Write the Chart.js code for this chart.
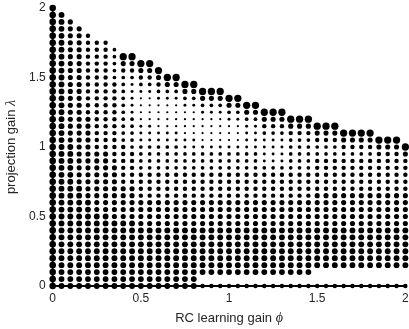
<!DOCTYPE html>
<html><head><meta charset="utf-8">
<script src="https://cdn.jsdelivr.net/npm/chart.js@4.4.1/dist/chart.umd.min.js"></script>
<style>html,body{margin:0;padding:0;background:#fff;overflow:hidden}</style>
</head><body>
<canvas id="c" width="409" height="329"></canvas>
<script>
// RC learning gain (x categories)
const phi = [0,0.05,0.1,0.15,0.2,0.25,0.3,0.35,0.4,0.45,0.5,0.55,0.6,0.65,0.7,0.75,0.8,0.85,0.9,0.95,1,1.05,1.1,1.15,1.2,1.25,1.3,1.35,1.4,1.45,1.5,1.55,1.6,1.65,1.7,1.75,1.8,1.85,1.9,1.95,2];
// projection gain (y categories)
const lambda = [0,0.05,0.1,0.15,0.2,0.25,0.3,0.35,0.4,0.45,0.5,0.55,0.6,0.65,0.7,0.75,0.8,0.85,0.9,0.95,1,1.05,1.1,1.15,1.2,1.25,1.3,1.35,1.4,1.45,1.5,1.55,1.6,1.65,1.7,1.75,1.8,1.85,1.9,1.95,2];
const xTickValues = [0,0.5,1,1.5,2];
const xTickLabels = ['0','0.5','1','1.5','2'];
const yTickValues = [0,0.5,1,1.5,2];
const yTickLabels = ['0','0.5','1','1.5','2'];
// marker size level per phi column, listed from lambda=0 upward
// ("v*n" = n consecutive points of level v, "." = no marker)
const sizeColumns = [
 "8*41",
 "7*40",
 "7*21 6*18",
 "7*15 6*23",
 "7*13 6*12 5*12",
 "7*11 6*9 5*16",
 "7*11 6*9 5*16",
 "7*10 6*8 5*12 4*5",
 "7*10 6*5 5*6 4*10 5 6 9",
 "7*10 6*5 5*5 4*5 3*5 4 5 6 9",
 "7*9 6*4 5*4 4*4 3*3 2*4 3 4 5 6 9",
 "7*9 6*4 5*4 4*4 3*3 2*4 3 4 5 6 9",
 "7*9 6*4 5*4 4*4 3*2 2*4 3 4 5 6 9",
 "7*9 6*4 5*4 4*4 3*2 2*4 3 4 6 9",
 "7*9 6*4 5*4 4*4 3*2 2*4 3 4 6 9",
 "7*9 6*4 5*4 4*3 3*2 2*4 3 4 6 9",
 "7*9 6*4 5*4 4*3 3*2 2*4 3 4 6 9",
 "5 . 7*7 6*4 5*4 4*3 3 2*4 3 4 6 9",
 "5 . 7*7 6*4 5*4 4*3 3 2*4 3 4 6 9",
 "5 . 7*7 6*4 5*4 4*3 3 2*4 3 4 6 9",
 "5 . 7*7 6*4 5*4 4*3 3 2*3 3 4 6 9",
 "5 . 7*7 6*4 5*4 4*3 3 2*3 3 4 6 9",
 "5 . 7*7 6*4 5*4 4*3 3*4 4 6 9",
 "5 . 7*7 6*4 5*4 4*3 3*4 4 6 9",
 "5 . 7*7 6*4 5*4 4 3*4 4 5 6 9",
 "5 . 7*7 6*4 5*4 4 3*4 4 5 6 9",
 "5 . 7*7 6*4 5*4 4 3*4 4 5 6 9",
 "5 . 7*7 6*4 5*4 4*5 5 6 9",
 "5 . 7*7 6*4 5*4 4*5 5 6 9",
 "5 . 7*7 6*4 5*4 4*5 5 6 9",
 "5 . . 7*6 6*5 5*5 4*2 5 6 9",
 "5 . . 7*6 6*5 5*5 4*2 5 6 9",
 "5 . . 7*6 6*5 5*5 4*2 5 6 9",
 "5 . . 7*6 6*5 5*5 4 5 6 9",
 "5 . . 7*6 6*5 5*5 4 5 6 9",
 "5 . . 7*6 6*5 5*5 4 5 6 9",
 "5 . . 7*6 6*5 5*5 4 5 6 9",
 "5 . . 7*6 6*5 5*6 6 9",
 "5 . . 7*6 6*5 5*6 6 9",
 "5 . . 7*6 6*5 5*6 6 9",
 "5 . . 7*6 6*5 5*5 6 9"
];
// marker radius (px) for each size level 0..9
const levelRadius = [0, 0.76, 1.12, 1.48, 1.84, 2.2, 2.56, 2.92, 3.28, 3.64];
const xTitle = 'RC learning gain ';
const xSymbol = '\u03D5';
const yTitle = 'projection gain ';
const ySymbol = '\u03BB';

function expand(s){
  const out = [];
  s.split(' ').forEach(tok => {
    const parts = tok.split('*');
    const n = parts.length > 1 ? parseInt(parts[1], 10) : 1;
    for (let k = 0; k < n; k++) out.push(parts[0]);
  });
  return out;
}

const points = [];
sizeColumns.forEach((col, i) => {
  expand(col).forEach((lvl, j) => {
    if (lvl !== '.') points.push({x: phi[i], y: lambda[j], s: parseInt(lvl, 10)});
  });
});

const FONT = '"Liberation Sans", Arial, Helvetica, sans-serif';
const SERIF = '"Liberation Serif", "DejaVu Serif", serif';
const TXT = '#262626';

// axis titles drawn as text with an italic math symbol
const titlePlugin = {
  id: 'mathTitles',
  afterDraw(chart) {
    const ctx = chart.ctx, a = chart.chartArea;
    ctx.save();
    ctx.fillStyle = TXT;
    ctx.textBaseline = 'middle';
    const f1 = '13px ' + FONT, f2 = 'italic 14px ' + SERIF;
    ctx.font = f1; const w1 = ctx.measureText(xTitle).width;
    ctx.font = f2; const w2 = ctx.measureText(xSymbol).width;
    let x0 = (a.left + a.right) / 2 - (w1 + w2) / 2;
    const yx = 318;
    ctx.font = f1; ctx.textAlign = 'left'; ctx.fillText(xTitle, x0, yx);
    ctx.font = f2; ctx.fillText(xSymbol, x0 + w1, yx);
    ctx.font = f1; const v1 = ctx.measureText(yTitle).width;
    ctx.font = f2; const v2 = ctx.measureText(ySymbol).width;
    ctx.translate(11, (a.top + a.bottom) / 2);
    ctx.rotate(-Math.PI / 2);
    const s0 = -(v1 + v2) / 2;
    ctx.font = f1; ctx.fillText(yTitle, s0, 0);
    ctx.font = f2; ctx.fillText(ySymbol, s0 + v1, 0);
    ctx.restore();
  }
};

new Chart(document.getElementById('c'), {
  data: {
    datasets: [
      {type:'line', data:[{x:phi[0],y:lambda[0]},{x:phi[phi.length-1],y:lambda[0]}],
       borderColor:'#000', borderWidth:2, pointRadius:0, clip:false, order:2},
      {type:'line', data:[{x:phi[0],y:lambda[0]},{x:phi[0],y:lambda[lambda.length-1]}],
       borderColor:'#000', borderWidth:2, pointRadius:0, clip:false, order:2},
      {type:'scatter', data: points, backgroundColor:'#000', borderWidth:0,
       pointRadius: ctx => (ctx.raw ? levelRadius[ctx.raw.s] : 0),
       pointHoverRadius: ctx => (ctx.raw ? levelRadius[ctx.raw.s] : 0),
       clip:false, order:1}
    ]
  },
  plugins:[titlePlugin],
  options: {
    responsive:false, animation:false, devicePixelRatio:1,
    layout:{padding:{top:8, right:1.7, left:0, bottom:0}},
    plugins:{legend:{display:false}, tooltip:{enabled:false}},
    events:[],
    scales:{
      x:{type:'linear', min:phi[0], max:phi[phi.length-1],
         afterBuildTicks: s => { s.ticks = xTickValues.map(v => ({value:v})); },
         afterFit: s => { s.height = 43; s.paddingLeft = 0; s.paddingRight = 0; },
         grid:{display:false, drawTicks:false}, border:{display:false},
         ticks:{padding:5, color:TXT, font:{family:FONT, size:12}, maxRotation:0,
                callback:(v,i) => xTickLabels[i]},
         title:{display:false}
      },
      y:{type:'linear', min:lambda[0], max:lambda[lambda.length-1],
         afterBuildTicks: s => { s.ticks = yTickValues.map(v => ({value:v})); },
         afterFit: s => { s.width = 52.7; s.paddingTop = 0; s.paddingBottom = 0; },
         grid:{display:false, drawTicks:false}, border:{display:false},
         ticks:{padding:7, color:TXT, font:{family:FONT, size:12},
                callback:(v,i) => yTickLabels[i]},
         title:{display:false}
      }
    }
  }
});
</script>
</body></html>
